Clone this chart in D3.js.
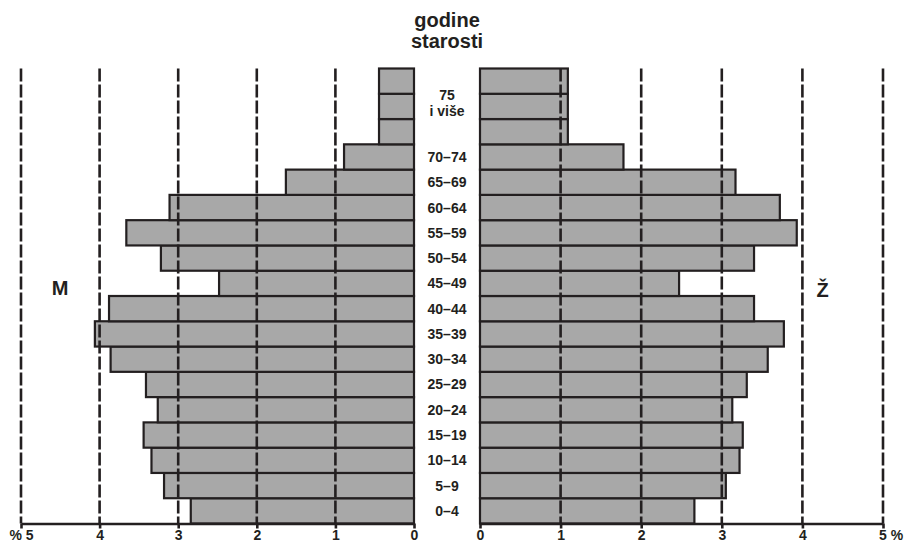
<!DOCTYPE html>
<html>
<head>
<meta charset="utf-8">
<script src="https://cdn.jsdelivr.net/npm/d3@7"></script>
<style>
  body { margin: 0; background: #fff; }
  text { font-family: "Liberation Sans", Arial, sans-serif; font-weight: bold; fill: #231f20; }
</style>
</head>
<body>
<div id="chart"></div>
<script>
// dobne skupine, od najmlađe prema najstarijoj
var ageGroups = ['0–4', '5–9', '10–14', '15–19', '20–24', '25–29', '30–34', '35–39',
                 '40–44', '45–49', '50–54', '55–59', '60–64', '65–69', '70–74', '75 i više'];
// udio u %, muškarci (M) i žene (Ž)
var male   = [2.84, 3.18, 3.34, 3.44, 3.26, 3.41, 3.86, 4.06, 3.88, 2.48, 3.22, 3.66, 3.11, 1.63, 0.89, 0.445];
var female = [2.66, 3.05, 3.22, 3.26, 3.13, 3.31, 3.57, 3.77, 3.40, 2.47, 3.40, 3.93, 3.72, 3.17, 1.78, 1.09];
// otvorena skupina "75 i više" crta se kroz tri reda
var rowSpan = [1, 1, 1, 1, 1, 1, 1, 1, 1, 1, 1, 1, 1, 1, 1, 3];
var ticks = [0, 1, 2, 3, 4, 5];

var W = 906, H = 544;
var yTop = 68.5, yBottom = 523.5;
var ink = '#231f20';

var rows = [];
ageGroups.forEach(function(g, i) {
    for (var r = 0; r < rowSpan[i]; r++)
        rows.push({ key: g + '#' + r, group: g, m: male[i], f: female[i] });
});

var y = d3.scaleBand()
          .domain(rows.map(function(d) { return d.key; }).reverse())
          .range([yTop, yBottom]);
var xL = d3.scaleLinear().domain([0, 5]).range([414, 21]);
var xR = d3.scaleLinear().domain([0, 5]).range([480, 883]);

var svg = d3.select('#chart').append('svg')
            .attr('width', W).attr('height', H);

// stupci
svg.append('g').selectAll('rect')
    .data(rows).enter()
    .append('rect')
      .attr('x', function(d) { return xL(d.m); })
      .attr('y', function(d) { return y(d.key); })
      .attr('width', function(d) { return xL(0) - xL(d.m); })
      .attr('height', y.bandwidth())
      .attr('fill', '#a8a8a8').attr('stroke', ink).attr('stroke-width', 2.2);

svg.append('g').selectAll('rect')
    .data(rows).enter()
    .append('rect')
      .attr('x', xR(0))
      .attr('y', function(d) { return y(d.key); })
      .attr('width', function(d) { return xR(d.f) - xR(0); })
      .attr('height', y.bandwidth())
      .attr('fill', '#a8a8a8').attr('stroke', ink).attr('stroke-width', 2.2);

// isprekidane linije mreže preko stupaca
[xL, xR].forEach(function(sc) {
    svg.append('g').selectAll('line')
        .data(ticks.slice(1)).enter()
        .append('line')
          .attr('x1', sc).attr('x2', sc)
          .attr('y1', yTop).attr('y2', yBottom)
          .attr('stroke', ink).attr('stroke-width', 2.6)
          .attr('stroke-dasharray', '13,3');
});

// osi
function drawAxis(sc, fmt) {
    var g = svg.append('g')
        .attr('transform', 'translate(0,' + yBottom + ')')
        .call(d3.axisBottom(sc).tickValues(ticks).tickSize(5).tickSizeOuter(0).tickFormat(fmt));
    g.attr('font-size', null).attr('font-family', null);
    g.select('.domain').attr('stroke', ink).attr('stroke-width', 2.6);
    g.selectAll('.tick line').attr('stroke', ink).attr('stroke-width', 2.6);
    g.selectAll('.tick text')
        .attr('y', 16.5).attr('dy', 0)
        .style('font-size', '14px')
        .attr('fill', ink);
    return g;
}
drawAxis(xL, function(d) { return d === 5 ? '% 5' : d; });
var gr = drawAxis(xR, function(d) { return d === 5 ? '5 %' : d; });
gr.selectAll('.tick text').filter(function(d) { return d === 5; })
    .attr('text-anchor', 'start').attr('x', -4.5);

// oznake dobnih skupina
var cx = (xL(0) + xR(0)) / 2;
ageGroups.forEach(function(g, i) {
    var ys = rows.filter(function(d) { return d.group === g; }).map(function(d) { return y(d.key); });
    var yc = (d3.min(ys) + d3.max(ys) + y.bandwidth()) / 2;
    var parts = g === '75 i više' ? ['75', 'i više'] : [g];
    parts.forEach(function(p, j) {
        svg.append('text')
            .attr('x', cx)
            .attr('y', parts.length > 1 ? yc - 6 + j * 16 : yc + 5)
            .attr('text-anchor', 'middle')
            .style('font-size', '14px')
            .text(p);
    });
});

// naslov i spol
svg.append('text').attr('x', cx).attr('y', 27).attr('text-anchor', 'middle')
    .style('font-size', '20px').text('godine');
svg.append('text').attr('x', cx).attr('y', 48).attr('text-anchor', 'middle')
    .style('font-size', '20px').text('starosti');
svg.append('text').attr('x', 60).attr('y', 294.5).attr('text-anchor', 'middle')
    .style('font-size', '20px').text('M');
svg.append('text').attr('x', 822.5).attr('y', 296.5).attr('text-anchor', 'middle')
    .style('font-size', '20px').text('Ž');
</script>
</body>
</html>
